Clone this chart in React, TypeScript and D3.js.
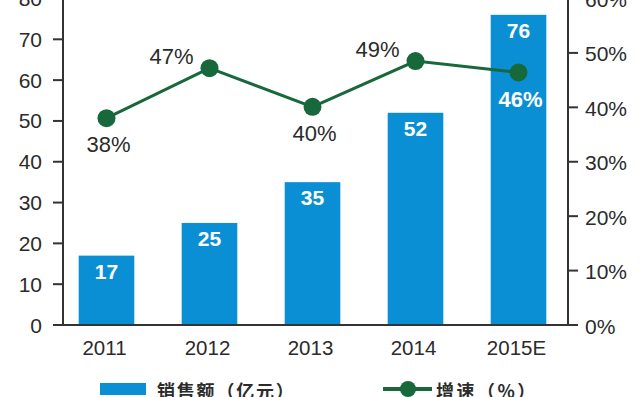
import * as d3 from "d3";

const years = ["2011", "2012", "2013", "2014", "2015E"];
const sales = [17, 25, 35, 52, 76];
const growth = [38, 47.2, 40.1, 48.5, 46.4];
const growthLabels = ["38%", "47%", "40%", "49%", "46%"];
const leftTicks = [0, 10, 20, 30, 40, 50, 60, 70, 80];
const rightTicks = [0, 10, 20, 30, 40, 50, 60];
const legendBar = "销售额（亿元）";
const legendLine = "增速（%）";

const W = 640;
const H = 397;
const BAR_COLOR = "#0b8fd4";
const LINE_COLOR = "#17683a";
const TEXT = "#2b2b2b";
const AXIS_COLOR = "#333";
const FONT = "'Liberation Sans', Arial, sans-serif";
const CJK = "'Noto Sans CJK SC', sans-serif";

const PLOT = { left: 63, right: 568, bottom: 325, top: -1.5 };

// where each growth label sits relative to its dot
const LABEL_PLACE = ["below", "above", "below", "above", "inside"];

export default function App() {
  const x = d3
    .scaleBand<string>()
    .domain(years)
    .range([55, 570])
    .paddingInner(0.46)
    .paddingOuter(0.23);

  const yLeft = d3.scaleLinear().domain([0, 80]).range([PLOT.bottom, PLOT.top]);
  const yRight = d3.scaleLinear().domain([0, 60]).range([PLOT.bottom, PLOT.top]);

  const cx = (y: string) => (x(y) ?? 0) + x.bandwidth() / 2;

  const line = d3
    .line<number>()
    .x((_, i) => cx(years[i]))
    .y((d) => yRight(d));

  return (
    <svg
      width={W}
      height={H}
      style={{ position: "absolute", left: 0, top: 0, background: "#fff" }}
      xmlns="http://www.w3.org/2000/svg"
    >
      <rect width={W} height={H} fill="#fff" />

      {/* bars */}
      {sales.map((v, i) => (
        <g key={years[i]}>
          <rect
            x={x(years[i])}
            y={yLeft(v)}
            width={x.bandwidth()}
            height={yLeft(0) - yLeft(v)}
            fill={BAR_COLOR}
          />
          <text
            x={cx(years[i])}
            y={yLeft(v) + 23}
            textAnchor="middle"
            fontSize={21}
            fontWeight="bold"
            fontFamily={FONT}
            fill="#fff"
          >
            {v}
          </text>
        </g>
      ))}

      {/* left axis */}
      <line x1={PLOT.left} y1={0} x2={PLOT.left} y2={PLOT.bottom} stroke={AXIS_COLOR} strokeWidth={2} />
      {leftTicks.map((t) => (
        <g key={t}>
          <line x1={PLOT.left - 10} x2={PLOT.left} y1={yLeft(t)} y2={yLeft(t)} stroke={AXIS_COLOR} strokeWidth={2} />
          <text
            x={42}
            y={yLeft(t)}
            textAnchor="end"
            dominantBaseline="central"
            fontSize={21}
            fontFamily={FONT}
            fill={TEXT}
          >
            {t}
          </text>
        </g>
      ))}

      {/* right axis */}
      <line x1={PLOT.right} y1={0} x2={PLOT.right} y2={PLOT.bottom} stroke={AXIS_COLOR} strokeWidth={2} />
      {rightTicks.map((t) => (
        <g key={t}>
          <line x1={PLOT.right} x2={PLOT.right + 10} y1={yRight(t)} y2={yRight(t)} stroke={AXIS_COLOR} strokeWidth={2} />
          <text
            x={585}
            y={yRight(t) + 1}
            dominantBaseline="central"
            fontSize={21}
            fontFamily={FONT}
            fill={TEXT}
          >
            {t}%
          </text>
        </g>
      ))}

      {/* x axis */}
      <line x1={PLOT.left - 10} x2={PLOT.right} y1={PLOT.bottom} y2={PLOT.bottom} stroke={AXIS_COLOR} strokeWidth={2} />
      {years.map((y) => (
        <text
          key={y}
          x={cx(y) - 2}
          y={355}
          textAnchor="middle"
          fontSize={20.5}
          fontFamily={FONT}
          fill={TEXT}
        >
          {y}
        </text>
      ))}

      {/* growth line */}
      <path d={line(growth) ?? undefined} fill="none" stroke={LINE_COLOR} strokeWidth={3} />
      {growth.map((g, i) => {
        const px = cx(years[i]);
        const py = yRight(g);
        const place = LABEL_PLACE[i];
        let lx = px;
        let ly = py + 34;
        let anchor = "middle";
        if (place === "above") {
          lx = px - 16;
          ly = py - 4;
          anchor = "end";
        }
        return (
          <g key={years[i]}>
            <circle cx={px} cy={py} r={9} fill={LINE_COLOR} />
            <text
              x={lx + (place === "above" ? 0 : 2)}
              y={ly}
              textAnchor={anchor}
              fontSize={22}
              fontWeight={place === "inside" ? "bold" : "normal"}
              fontFamily={FONT}
              fill={place === "inside" ? "#fff" : TEXT}
            >
              {growthLabels[i]}
            </text>
          </g>
        );
      })}

      {/* legend */}
      <rect x={100} y={383} width={46} height={12} fill={BAR_COLOR} />
      <text
        x={157}
        y={390}
        dominantBaseline="central"
        fontSize={18}
        fontWeight="bold"
        letterSpacing={1.8}
        fontFamily={CJK}
        fill={TEXT}
      >
        {legendBar}
      </text>
      <line x1={383} x2={432} y1={389} y2={389} stroke={LINE_COLOR} strokeWidth={4} />
      <circle cx={408} cy={389} r={8} fill={LINE_COLOR} />
      <text
        x={436}
        y={390}
        dominantBaseline="central"
        fontSize={18}
        fontWeight="bold"
        letterSpacing={2.5}
        fontFamily={CJK}
        fill={TEXT}
      >
        {legendLine}
      </text>
    </svg>
  );
}
